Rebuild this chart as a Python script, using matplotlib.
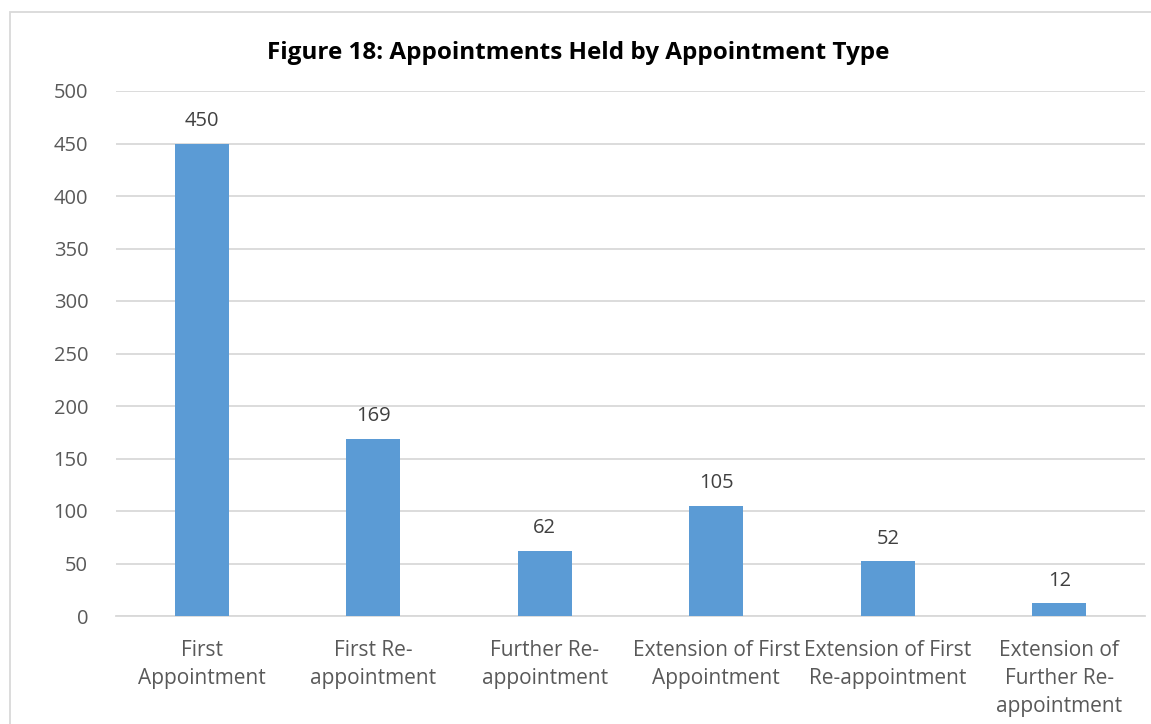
import matplotlib.pyplot as plt
from matplotlib.patches import Rectangle

# Chart data
categories = [
    "First\nAppointment",
    "First Re-\nappointment",
    "Further Re-\nappointment",
    "Extension of First\nAppointment",
    "Extension of First\nRe-appointment",
    "Extension of\nFurther Re-\nappointment",
]
appointments = [450, 169, 62, 105, 52, 12]
y_ticks = [0, 50, 100, 150, 200, 250, 300, 350, 400, 450, 500]

BAR_COLOR = '#5B9BD5'
TEXT_COLOR = '#595959'
GRID_COLOR = '#D9D9D9'

plt.rcParams['font.family'] = ['Open Sans', 'DejaVu Sans']

fig = plt.figure(figsize=(11.51, 7.24), dpi=100)
W, H = 1151, 724
ax = fig.add_axes([116 / W, 1 - 616 / H, (1145 - 116) / W, (616 - 91) / H])

x = list(range(len(categories)))
bars = ax.bar(x, appointments, width=0.315, color=BAR_COLOR, zorder=3)

for xi, v in zip(x, appointments):
    ax.annotate(f'{v}', (xi, v), xytext=(0, 9), textcoords='offset points',
                ha='center', va='bottom', fontsize=14.5, color='#404040')

ax.set_xlim(-0.5, len(categories) - 0.5)
ax.set_ylim(0, 500)
ax.set_yticks(y_ticks)
ax.set_xticks(x)
ax.set_xticklabels(categories, fontsize=15, color=TEXT_COLOR, linespacing=1.45)
ax.tick_params(axis='y', labelsize=14.5, labelcolor=TEXT_COLOR, length=0, pad=20)
ax.tick_params(axis='x', length=0, pad=17)
ax.grid(axis='y', color=GRID_COLOR, linewidth=1.3, zorder=0)
for side in ['top', 'right', 'left']:
    ax.spines[side].set_visible(False)
ax.spines['bottom'].set_color(GRID_COLOR)
ax.spines['bottom'].set_linewidth(1.3)

fig.text(578 / W, 1 - 53 / H, 'Figure 18: Appointments Held by Appointment Type',
         ha='center', va='center', fontsize=17.5, fontweight='bold', color='black')

# chart frame
fig.patches.append(Rectangle((10 / W, -0.1), 1.2, 1 - 12 / H + 0.1,
                             transform=fig.transFigure, fill=False,
                             edgecolor='#D9D9D9', linewidth=1.3))

fig.savefig('out.png', dpi=100)
